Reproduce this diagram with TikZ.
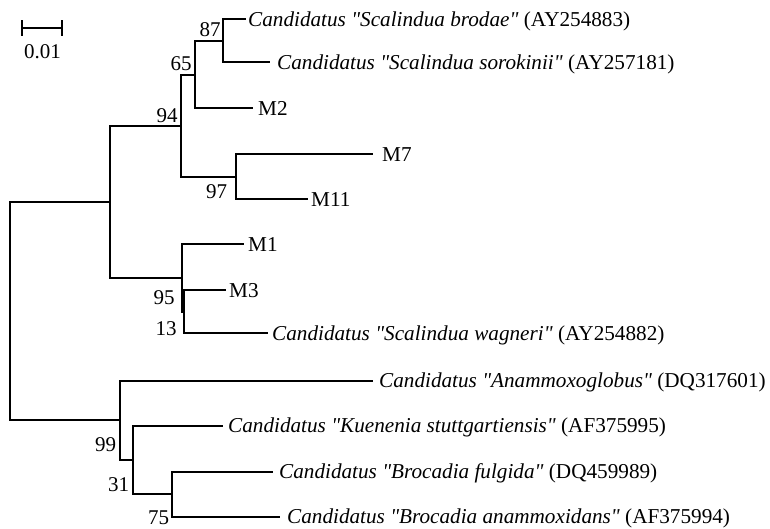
\documentclass[tikz,border=0pt]{standalone}
\usepackage{fontspec}
\setmainfont{Liberation Serif}[Ligatures=TeXOff]
\begin{document}
\begin{tikzpicture}[x=1pt,y=-1pt,
  br/.style={line width=2pt, line cap=rect},
  leaf/.style={anchor=base west, inner sep=0pt, font=\fontsize{21.2}{25}\selectfont},
  bs/.style={anchor=center, inner sep=0pt, font=\fontsize{21}{25}\selectfont}]
\useasboundingbox (0,0) rectangle (770,528);
% internal nodes
\coordinate (root) at (10,311);
\coordinate (nA) at (110,201.5);
\coordinate (n94) at (181,125.5);
\coordinate (n65) at (195,74.5);
\coordinate (n87) at (223,40.5);
\coordinate (n97) at (236,176.5);
\coordinate (n95) at (182.3,278);
\coordinate (n13) at (184,312);
\coordinate (nB) at (120,420);
\coordinate (n99) at (133,459.7);
\coordinate (n31) at (172,494);
% leaf line ends
\coordinate (eBro) at (245,19);
\coordinate (eSor) at (269,62);
\coordinate (eM2) at (252,108);
\coordinate (eM7) at (372,154);
\coordinate (eM11) at (307,199);
\coordinate (eM1) at (243,244);
\coordinate (eM3) at (225,290);
\coordinate (eWag) at (267,333);
\coordinate (eAna) at (372,380.5);
\coordinate (eKue) at (222,425.5);
\coordinate (eFul) at (272,471.5);
\coordinate (eAnx) at (279,516.5);
% leaf labels
\node[leaf] (lBro) at (248,26) {\textit{Candidatus "Scalindua brodae"} (AY254883)};
\node[leaf] (lSor) at (277,69) {\textit{Candidatus "Scalindua sorokinii"} (AY257181)};
\node[leaf] (lM2) at (258,115) {M2};
\node[leaf] (lM7) at (382,161) {M7};
\node[leaf] (lM11) at (311,206) {M11};
\node[leaf] (lM1) at (248,251) {M1};
\node[leaf] (lM3) at (229,297) {M3};
\node[leaf] (lWag) at (272,340) {\textit{Candidatus "Scalindua wagneri"} (AY254882)};
\node[leaf] (lAna) at (379,387.5) {\textit{Candidatus "Anammoxoglobus"} (DQ317601)};
\node[leaf] (lKue) at (228,432.5) {\textit{Candidatus "Kuenenia stuttgartiensis"} (AF375995)};
\node[leaf] (lFul) at (279,478.5) {\textit{Candidatus "Brocadia fulgida"} (DQ459989)};
\node[leaf] (lAnx) at (287,523.5) {\textit{Candidatus "Brocadia anammoxidans"} (AF375994)};
% branches
\draw[br] (root) |- (nA);
\draw[br] (root) |- (nB);
\draw[br] (nA) |- (n94);
\draw[br] (nA) |- (n95);
\draw[br] (n94) |- (n65);
\draw[br] (n94) |- (n97);
\draw[br] (n65) |- (n87);
\draw[br] (n65) |- (eM2);
\draw[br] (n87) |- (eBro);
\draw[br] (n87) |- (eSor);
\draw[br] (n97) |- (eM7);
\draw[br] (n97) |- (eM11);
\draw[br] (n95) |- (eM1);
\draw[br] (n95) |- (n13);
\draw[br] (n13) |- (eM3);
\draw[br] (n13) |- (eWag);
\draw[br] (nB) |- (eAna);
\draw[br] (nB) |- (n99);
\draw[br] (n99) |- (eKue);
\draw[br] (n99) |- (n31);
\draw[br] (n31) |- (eFul);
\draw[br] (n31) |- (eAnx);
% bootstrap values
\node[bs] (b87) at (210,29.5) {87};
\node[bs] (b65) at (181,64) {65};
\node[bs] (b94) at (167,115.5) {94};
\node[bs] (b97) at (216.5,191.5) {97};
\node[bs] (b95) at (164,298) {95};
\node[bs] (b13) at (166,329) {13};
\node[bs] (b99) at (105.5,445) {99};
\node[bs] (b31) at (118.5,484.7) {31};
\node[bs] (b75) at (158.5,518) {75};
% scale bar
\coordinate (sbL) at (22,28);
\coordinate (sbR) at (62,28);
\draw[br] (sbL) -- (sbR);
\draw[br] ([yshift=-7pt]sbL) -- ([yshift=7pt]sbL);
\draw[br] ([yshift=-7pt]sbR) -- ([yshift=7pt]sbR);
\node[bs] (sbT) at (42.5,52) {0.01};
\end{tikzpicture}
\end{document}
